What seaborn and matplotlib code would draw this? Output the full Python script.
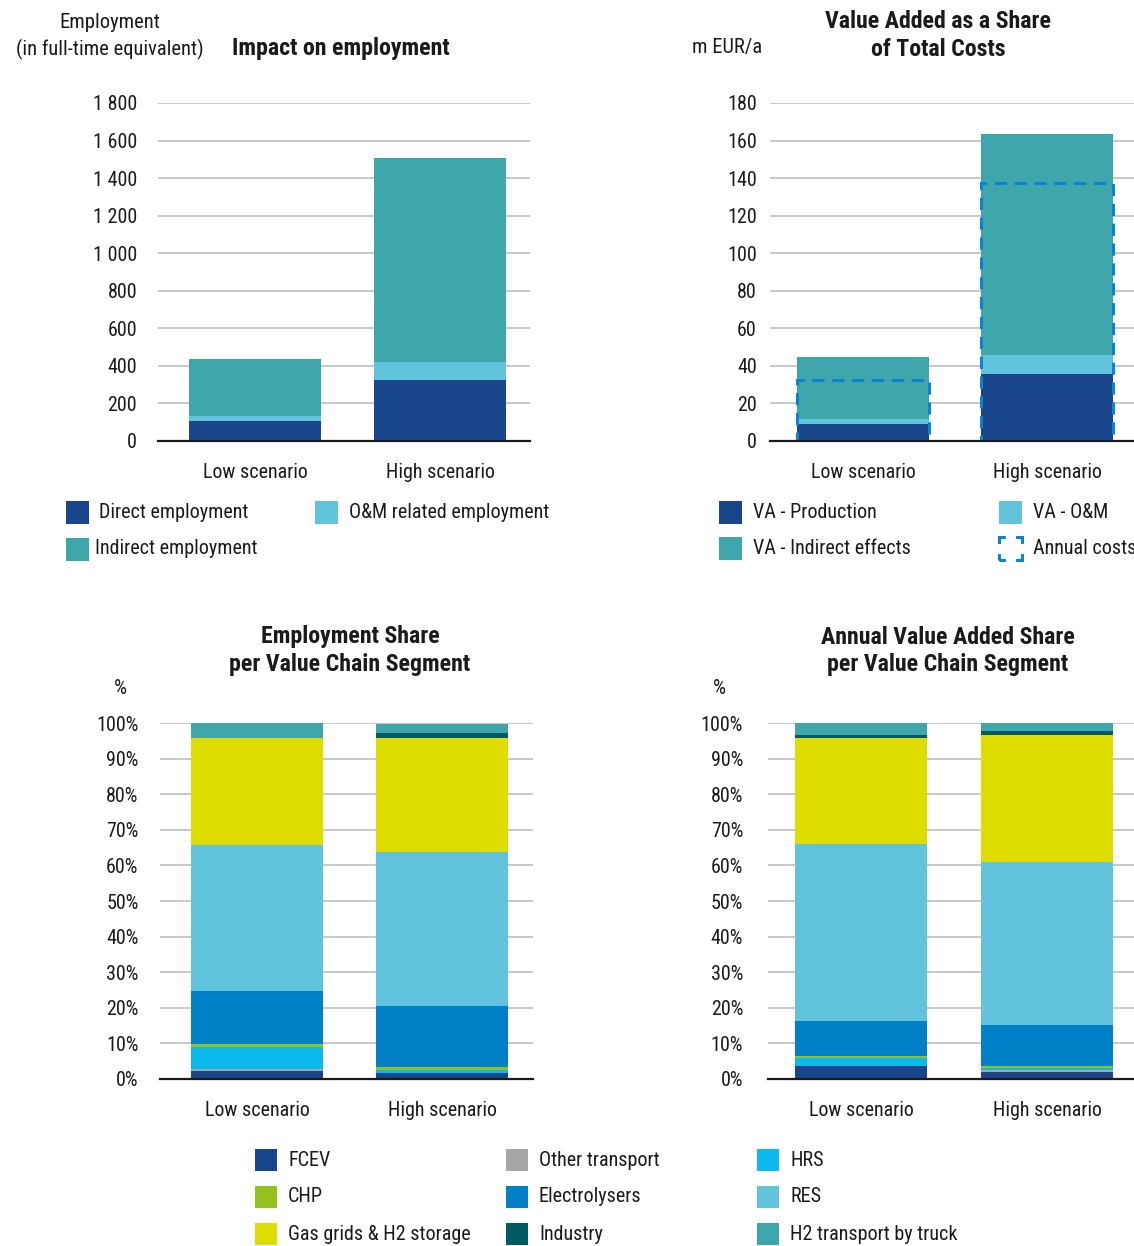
import matplotlib
matplotlib.use("Agg")
import matplotlib.pyplot as plt
import seaborn as sns
import numpy as np
from matplotlib import font_manager
from matplotlib.patches import Rectangle
from matplotlib.ticker import FuncFormatter

# ---------------- data ----------------
scenarios = ["Low scenario", "High scenario"]

emp_labels = ["Direct employment", "O&M related employment", "Indirect employment"]
direct_employment = [106, 325]
om_employment = [27, 96]
indirect_employment = [304, 1086]

va_labels = ["VA - Production", "VA - O&M", "VA - Indirect effects", "Annual costs"]
va_production = [9.0, 35.7]
va_om = [2.7, 10.1]
va_indirect = [32.9, 117.7]
annual_costs = [32.5, 137.2]

segments = ["FCEV", "Other transport", "HRS", "CHP", "Electrolysers", "RES",
            "Gas grids & H2 storage", "Industry", "H2 transport by truck"]
emp_share_low = [2.2, 0.6, 6.3, 0.8, 14.9, 40.9, 30.2, 0.0, 4.2]
emp_share_high = [1.6, 0.0, 0.9, 1.0, 16.9, 43.5, 32.0, 1.4, 2.5]
va_share_low = [3.6, 0.0, 2.4, 0.5, 9.8, 49.6, 29.9, 0.9, 3.3]
va_share_high = [1.9, 0.6, 0.5, 0.6, 11.6, 45.7, 35.8, 1.1, 2.3]

# ---------------- styles ----------------
C_DARK = "#19468a"
C_LIGHT = "#62c3dc"
C_TEAL = "#3fa7ab"
C_DASH = "#0a84d0"
seg_colors = ["#19468a", "#a6a6a6", "#0bb9ec", "#95c11f", "#0080c6",
              "#62c3dc", "#dfdd00", "#005a63", "#3fa7ab"]

sns.set_style("white")
names = {f.name for f in font_manager.fontManager.ttflist}
base = "Roboto Condensed" if "Roboto Condensed" in names else "Roboto"
condensed = base == "Roboto Condensed"
plt.rcParams["font.family"] = [base, "DejaVu Sans"]

W, H = 1134, 1246
fig = plt.figure(figsize=(W / 100, H / 100), dpi=100)
fig.patch.set_facecolor("white")

k = 1.0 if condensed else 0.86
FS = 14.4 * k       # tick labels
FL = 14.5 * k       # legend labels
FT = 17.2 * k       # titles
FSM = 14.8 * k      # axis captions
GRID = "#c4c4c4"
TXT = "#1a1a1a"


def fx(x):
    return x / W


def fy(y):
    return 1 - y / H


def make_ax(l, r, t, b):
    return fig.add_axes([fx(l), fy(b), (r - l) / W, (b - t) / H])


def stack(ax, layers, colors, width):
    cums = np.cumsum(np.array(layers, dtype=float), axis=0)
    for i in range(len(layers) - 1, -1, -1):
        sns.barplot(x=scenarios, y=cums[i], color=colors[i], width=width,
                    saturation=1, linewidth=0, errorbar=None, ax=ax)


def style_ax(ax, ylim, ticks, fmt, xlim, ypad):
    ax.set_ylim(*ylim)
    ax.set_xlim(*xlim)
    ax.set_yticks(ticks)
    ax.yaxis.set_major_formatter(FuncFormatter(fmt))
    ax.yaxis.grid(True, color=GRID, lw=1.3)
    ax.set_axisbelow(True)
    for s in ["top", "right", "left"]:
        ax.spines[s].set_visible(False)
    ax.spines["bottom"].set_color(TXT)
    ax.spines["bottom"].set_linewidth(1.6)
    ax.spines["bottom"].set_zorder(5)
    ax.tick_params(axis="y", length=0, pad=ypad, labelsize=FS, labelcolor=TXT)
    ax.tick_params(axis="x", length=0, pad=16, labelsize=FS, labelcolor=TXT)
    ax.set_xlabel("")
    ax.set_ylabel("")
    ax.patch.set_alpha(0)


# ---------------- top left ----------------
ax1 = make_ax(158, 530, 103, 441)
stack(ax1, [direct_employment, om_employment, indirect_employment],
      [C_DARK, C_LIGHT, C_TEAL], 0.714)
style_ax(ax1, (0, 1800), np.arange(0, 1801, 200),
         lambda v, p: f"{v:,.0f}".replace(",", " "), (-0.524, 1.486), 15)

# ---------------- top right ----------------
ax2 = make_ax(770, 1134, 103, 441)
stack(ax2, [va_production, va_om, va_indirect], [C_DARK, C_LIGHT, C_TEAL], 0.717)
sns.barplot(x=scenarios, y=annual_costs, fill=False, color=C_DASH, width=0.717,
            linewidth=2.2, linestyle=(0, (4, 2.5)), errorbar=None, ax=ax2)
for p in ax2.patches[-2:]:
    p.set_edgecolor(C_DASH)
    p.set_zorder(4)
style_ax(ax2, (0, 180), np.arange(0, 181, 20),
         lambda v, p: f"{v:.0f}", (-0.505, 1.473), 9.5)

# ---------------- bottom left ----------------
ax3 = make_ax(160, 533, 723, 1079)
stack(ax3, [[lo, hi] for lo, hi in zip(emp_share_low, emp_share_high)], seg_colors, 0.714)
style_ax(ax3, (0, 100), np.arange(0, 101, 10),
         lambda v, p: f"{v:.0f}%", (-0.524, 1.492), 15.5)

# ---------------- bottom right ----------------
ax4 = make_ax(768, 1134, 723, 1079)
stack(ax4, [[lo, hi] for lo, hi in zip(va_share_low, va_share_high)], seg_colors, 0.71)
style_ax(ax4, (0, 100), np.arange(0, 101, 10),
         lambda v, p: f"{v:.0f}%", (-0.5, 1.468), 18)

# ---------------- titles ----------------


def t(x, y, s, bold=False, size=FS, ha="center"):
    fig.text(fx(x), fy(y), s, ha=ha, va="center", fontsize=size,
             fontweight="bold" if bold else "normal", color=TXT)


t(110, 22, "Employment", size=FSM)
t(110, 49, "(in full-time equivalent)", size=FSM)
t(341, 49, "Impact on employment", bold=True, size=FT)
t(938, 22, "Value Added as a Share", bold=True, size=FT)
t(938, 49, "of Total Costs", bold=True, size=FT)
t(727, 47, "m EUR/a", size=FSM)
t(350, 637, "Employment Share", bold=True, size=FT)
t(350, 664, "per Value Chain Segment", bold=True, size=FT)
t(948, 637, "Annual Value Added Share", bold=True, size=FT)
t(948, 664, "per Value Chain Segment", bold=True, size=FT)
t(120, 688, "%", size=FSM)
t(719, 688, "%", size=FSM)

# ---------------- legends ----------------


def key(x, y, label, color, tx, dashed=False, size=22):
    if dashed:
        r = Rectangle((fx(x), fy(y + size / 2)), size / W, size / H, transform=fig.transFigure,
                      fill=False, edgecolor=C_DASH, lw=2.2, linestyle=(2.1, (4.2, 3.33)))
    else:
        r = Rectangle((fx(x), fy(y + size / 2)), size / W, size / H, transform=fig.transFigure,
                      facecolor=color, edgecolor="none")
    fig.patches.append(r)
    t(tx, y, label, ha="left", size=FL)


key(66, 512, emp_labels[0], C_DARK, 99, size=23)
key(315, 512, emp_labels[1], C_LIGHT, 349, size=23)
key(66, 549, emp_labels[2], C_TEAL, 95, size=23)

key(719, 512, va_labels[0], C_DARK, 753, size=23)
key(999, 512, va_labels[1], C_LIGHT, 1033, size=23)
key(719, 548, va_labels[2], C_TEAL, 753, size=23)
key(999, 548, va_labels[3], None, 1033, dashed=True, size=23)

col_sq = [255, 506, 757]
col_tx = [288, 539, 790]
rows = [1160, 1197, 1234]
for i, (seg, c) in enumerate(zip(segments, seg_colors)):
    r, kk = divmod(i, 3)
    key(col_sq[kk], rows[r], seg, c, col_tx[kk], size=22)

fig.savefig("out.png", dpi=100, facecolor="white")
